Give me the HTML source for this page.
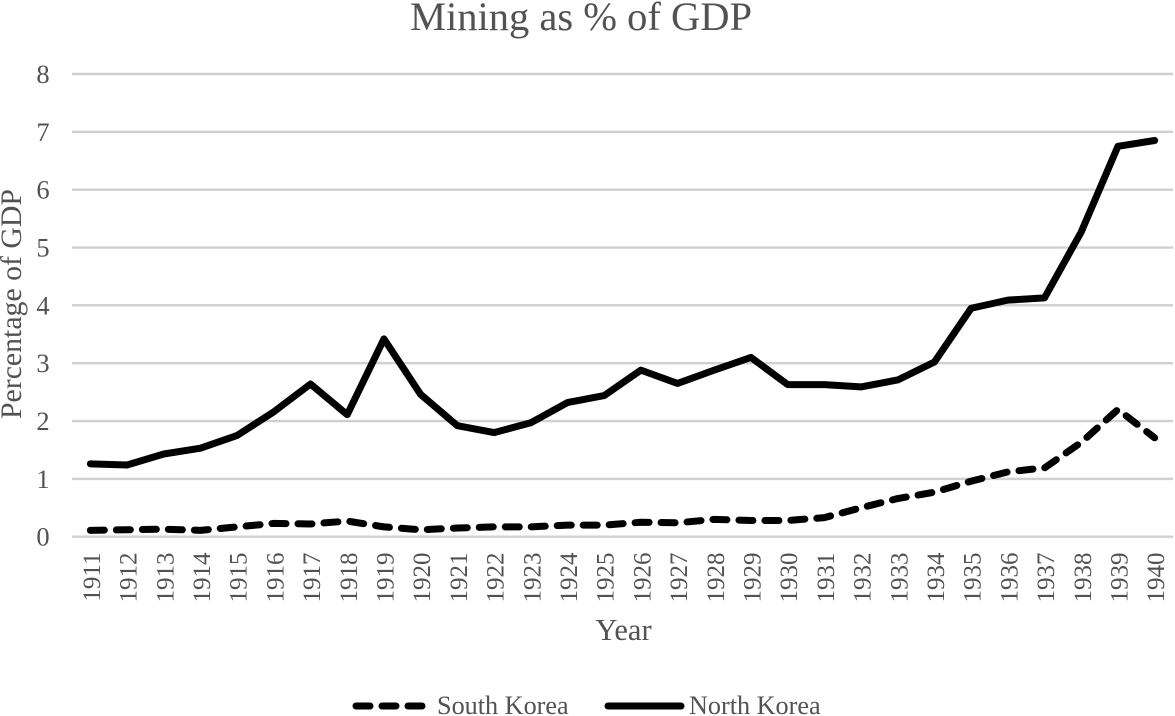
<!DOCTYPE html>
<html lang="en">
<head>
<meta charset="utf-8">
<title>Mining as % of GDP</title>
<style>
html,body{margin:0;padding:0;background:#fff;}
body{width:1175px;height:716px;overflow:hidden;}
svg{display:block;font-family:"Liberation Serif",serif;fill:#525252;}
</style>
</head>
<body>
<svg id="chart" width="1175" height="716" viewBox="0 0 1175 716" xmlns="http://www.w3.org/2000/svg">
  <rect x="0" y="0" width="1175" height="716" fill="#ffffff"/>
  <text x="581" y="30" font-size="40.5" text-anchor="middle">Mining as % of GDP</text>
  <g id="grid"></g>
  <g id="yticks"></g>
  <g id="xticks"></g>
  <text transform="translate(21,304) rotate(-90)" font-size="29.8" text-anchor="middle">Percentage of GDP</text>
  <text x="623.5" y="640" font-size="30.5" text-anchor="middle">Year</text>
  <path id="south-line" fill="none" stroke="#000" stroke-width="7" stroke-linecap="round" stroke-linejoin="round" stroke-dasharray="14 12"/>
  <path id="north-line" fill="none" stroke="#000" stroke-width="7" stroke-linecap="round" stroke-linejoin="round"/>
  <g>
    <line x1="356" y1="706" x2="422" y2="706" stroke="#000" stroke-width="7" stroke-linecap="round" stroke-dasharray="14 12"/>
    <text x="437" y="714" font-size="26.2">South Korea</text>
    <line x1="608" y1="706" x2="681" y2="706" stroke="#000" stroke-width="7" stroke-linecap="round"/>
    <text x="689" y="714" font-size="26.2">North Korea</text>
  </g>
</svg>
<script>
const years = [1911,1912,1913,1914,1915,1916,1917,1918,1919,1920,1921,1922,1923,1924,1925,1926,1927,1928,1929,1930,1931,1932,1933,1934,1935,1936,1937,1938,1939,1940];
const northKorea = [1.26,1.24,1.43,1.53,1.75,2.16,2.64,2.11,3.42,2.46,1.92,1.80,1.97,2.32,2.44,2.88,2.65,2.88,3.10,2.63,2.63,2.59,2.71,3.02,3.95,4.09,4.13,5.27,6.75,6.85];
const southKorea = [0.11,0.12,0.13,0.11,0.17,0.23,0.22,0.27,0.17,0.12,0.15,0.17,0.17,0.20,0.20,0.25,0.24,0.30,0.28,0.28,0.33,0.50,0.66,0.77,0.96,1.12,1.19,1.63,2.20,1.71];
const yTicks = [0,1,2,3,4,5,6,7,8];

const SVG_NS = 'http://www.w3.org/2000/svg';
const plotLeft = 72, plotRight = 1173, plotBottom = 536.7, plotTop = 74;
const yMax = 8;
function xPos(i){ return plotLeft + (i + 0.5) * (plotRight - plotLeft) / years.length; }
function yPos(v){ return plotBottom - (v / yMax) * (plotBottom - plotTop); }
function linePath(values){
  return values.map(function(v, i){ return (i ? 'L' : 'M') + xPos(i).toFixed(2) + ' ' + yPos(v).toFixed(2); }).join(' ');
}

const grid = document.getElementById('grid');
const yTickGroup = document.getElementById('yticks');
yTicks.forEach(function(t){
  const line = document.createElementNS(SVG_NS, 'line');
  
  
  line.setAttribute('x1', plotLeft);
  line.setAttribute('x2', plotRight);
  line.setAttribute('y1', yPos(t));
  line.setAttribute('y2', yPos(t));
  line.setAttribute('stroke', '#d0d0d0');
  line.setAttribute('stroke-width', '2.4');
  grid.appendChild(line);

  const label = document.createElementNS(SVG_NS, 'text');
  
  
  label.setAttribute('x', 43);
  label.setAttribute('y', yPos(t) + 9);
  label.setAttribute('font-size', '26.5');
  label.setAttribute('text-anchor', 'middle');
  label.textContent = t;
  yTickGroup.appendChild(label);
});

const xTickGroup = document.getElementById('xticks');
years.forEach(function(year, i){
  const label = document.createElementNS(SVG_NS, 'text');
  
  
  label.setAttribute('transform', 'translate(' + (xPos(i) + 9.5) + ',552.5) rotate(-90)');
  label.setAttribute('font-size', '25');
  label.setAttribute('text-anchor', 'end');
  label.textContent = year;
  xTickGroup.appendChild(label);
});

document.getElementById('north-line').setAttribute('d', linePath(northKorea));
document.getElementById('south-line').setAttribute('d', linePath(southKorea));
</script>
</body>
</html>
